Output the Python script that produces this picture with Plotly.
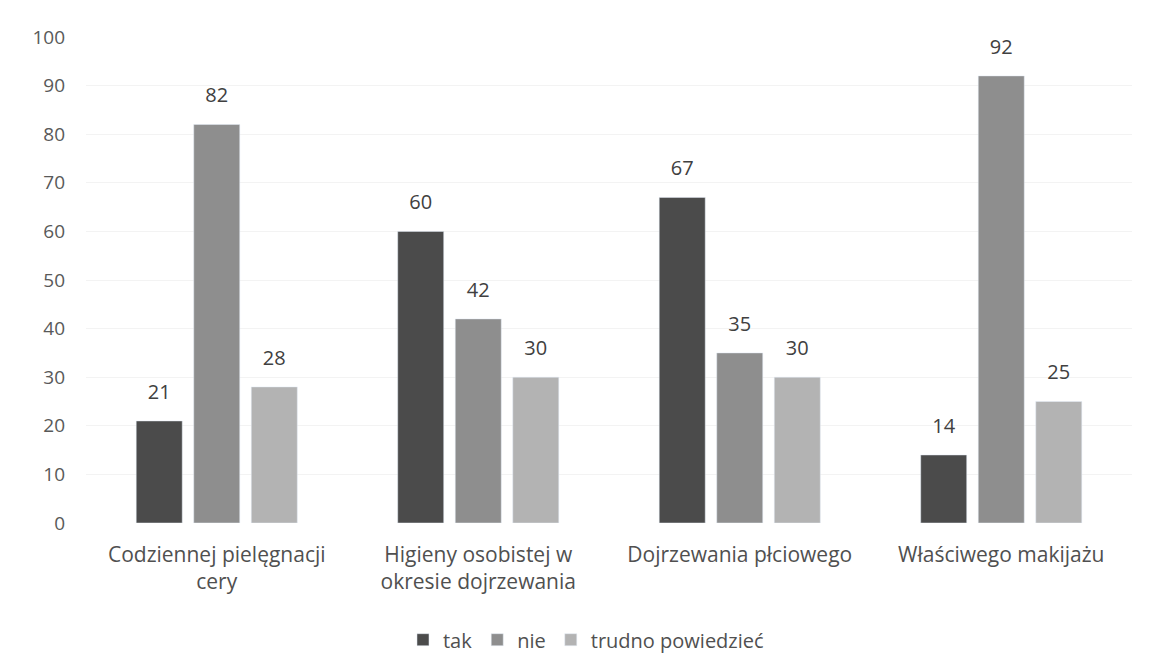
import plotly.graph_objects as go

categories = ["Codziennej pielęgnacji<br>cery", "Higieny osobistej w<br>okresie dojrzewania",
              "Dojrzewania płciowego", "Właściwego makijażu"]
tak = [21, 60, 67, 14]
nie = [82, 42, 35, 92]
trudno = [28, 30, 30, 25]
series_names = ["tak", "nie", "trudno powiedzieć"]
colors = ["#4b4b4b", "#8e8e8e", "#b3b3b3"]

fig = go.Figure()
for i, (name, vals, col) in enumerate(zip(series_names, [tak, nie, trudno], colors)):
    fig.add_trace(go.Bar(
        x=categories, y=vals, name=name, marker_color=col,
        offsetgroup=str(i), hoverinfo="x+y+name",
    ))
for i, vals in enumerate([tak, nie, trudno]):
    fig.add_trace(go.Scatter(
        x=categories, y=vals, mode="markers+text", text=[str(v) for v in vals],
        textposition="top center", offsetgroup=str(i), showlegend=False,
        marker=dict(size=26, opacity=0), cliponaxis=False, hoverinfo="skip",
        textfont=dict(size=20, color="#404040"),
    ))

fig.update_layout(
    width=1149, height=668,
    paper_bgcolor="white", plot_bgcolor="white",
    barmode="group", bargap=0.34, bargroupgap=0.2,
    scattermode="group", scattergap=0.34,
    margin=dict(l=78, r=25, t=29, b=153, autoexpand=False),
    font=dict(family="Open Sans, sans-serif", size=20, color="#555555"),
    yaxis=dict(range=[0, 100], dtick=10, showgrid=True, gridcolor="#f3f3f3",
               zeroline=False, showline=False, ticks="", ticklabelstandoff=20,
               automargin=False, tickfont=dict(size=19, color="#595959")),
    xaxis=dict(showline=False, ticks="", ticklabelstandoff=17, automargin=False,
               tickfont=dict(size=21, color="#505050")),
    legend=dict(orientation="h", x=0.478, xanchor="center", y=-0.2, yanchor="top",
                font=dict(size=20, color="#505050"), itemwidth=30),
)
fig.write_html("out.html")
